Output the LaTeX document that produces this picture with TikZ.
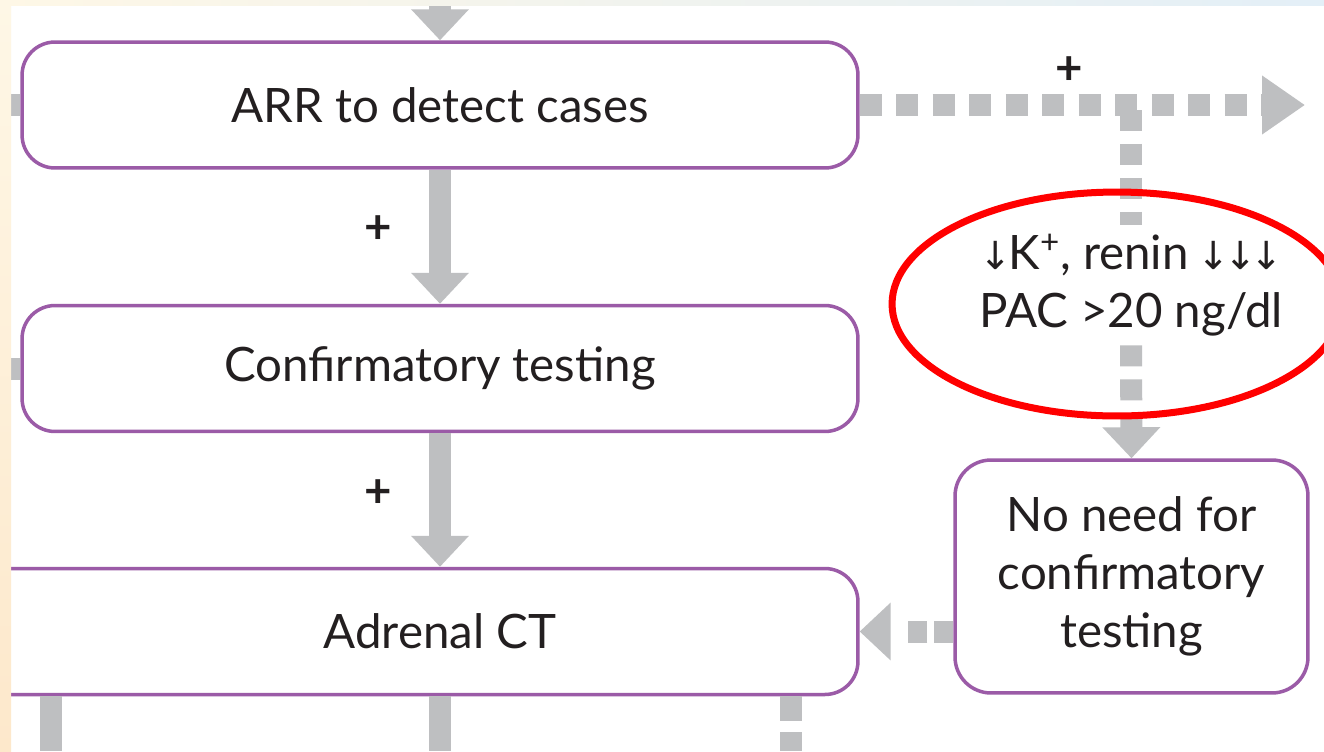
\documentclass[tikz,border=0pt]{standalone}
\usepackage{fontspec}
\setmainfont{Lato}
\newfontfamily\arrowfont{DejaVu Sans}
\usetikzlibrary{arrows.meta, positioning}
\definecolor{boxpurple}{HTML}{9B5BA7}
\definecolor{arrowgrey}{HTML}{BEBFC1}
\definecolor{textgrey}{HTML}{231F20}
\definecolor{margintop}{HTML}{FEF7E6}
\definecolor{marginbottom}{HTML}{FDE8CB}
\definecolor{marginblue}{HTML}{E3EFF7}

\newcommand{\dn}{{\arrowfont\fontsize{22}{24}\selectfont\kern-0.08em↓\kern-0.08em}}

\begin{document}
\begin{tikzpicture}[
    x=0.02cm, y=-0.02cm,
    box/.style={draw=boxpurple, line width=0.07cm, fill=white, rounded corners=0.66cm, align=center, text=textgrey, font=\fontsize{27}{33}\selectfont, minimum width=16.72cm, minimum height=2.52cm, inner sep=0pt},
    note/.style={fill=white, align=center, text=textgrey, font=\fontsize{27}{33}\selectfont, minimum width=6.4cm, minimum height=2.4cm, inner sep=0pt},
    plus/.style={text=textgrey, font=\fontsize{27}{27}\selectfont\bfseries, inner sep=0pt},
    shaft/.style={draw=arrowgrey, line width=0.44cm},
    flow/.style={shaft, -{Triangle[width=1.12cm, length=0.62cm]}},
    dotflow/.style={flow, dash pattern=on 0.44cm off 0.29cm}
]
\useasboundingbox (0,0) rectangle (1324,751);
\fill[white] (0,0) rectangle (1324,751);

% Nodes
\node[box] (arr) at (440,105) {ARR to detect cases};
\node[box] (conf) at (440,368.5) {Confirmatory testing};
\node[box, minimum width=17.76cm] (ct) at (414,631.5) {\hspace*{1.04cm}Adrenal CT};
\node[box, minimum width=7.06cm, minimum height=4.66cm, rounded corners=0.72cm] (skip) at (1131.5,576.5) {No need for\\confirmatory\\testing};
\node[note] (crit) at (1131,285) {\dn K\textsuperscript{+}, renin \dn\dn\dn\\PAC >20 ng/dl};

\coordinate (top) at (440,0);
\coordinate (inA) at (0,105);
\coordinate (inB) at (0,368.5);
\coordinate (exit) at (1305,105);
\coordinate (split) at (1131,110);
\coordinate (outA) at (51,751);
\coordinate (outB) at (440,751);
\coordinate (outC) at (791,751);

% Arrows
\draw[flow] (top) -- (arr);
\draw[shaft] (arr.west) -- (inA);
\draw[shaft] (conf.west) -- (inB);
\draw[flow] (arr) -- node[plus, left=0.75cm, pos=0.45] {+} (conf);
\draw[flow] (conf) -- node[plus, left=0.75cm, pos=0.45] {+} (conf |- ct.north);
\draw[shaft, dash pattern=on 0.42cm off 0.26cm] (split) -- (crit.north);
\draw[flow, dash pattern=on 0.42cm off 0.26cm] (crit.south) -- (skip.north);
\draw[dotflow, -{Triangle[width=1.12cm, length=0.86cm]}] (arr.east) -- node[plus, above=0.2cm, pos=0.47] {+} (exit);
\draw[dotflow, dash pattern=on 0.38cm off 0.14cm on 0.38cm off 1cm] (skip.west |- ct) -- (ct.east);
\draw[shaft] (ct.south -| outA) -- (outA);
\draw[shaft] (ct.south -| outB) -- (outB);
\draw[shaft, dash pattern=on 0.5cm off 0.22cm] (ct.south -| outC) -- (outC);

% Highlight
\draw[red, line width=0.14cm] (1117,304) ellipse [x radius=4.5cm, y radius=2.24cm];

% Margins
\shade[top color=margintop, bottom color=marginbottom] (0,0) rectangle (11,751);
\shade[left color=margintop, right color=marginblue] (0,0) rectangle (1324,5);
\end{tikzpicture}
\end{document}
